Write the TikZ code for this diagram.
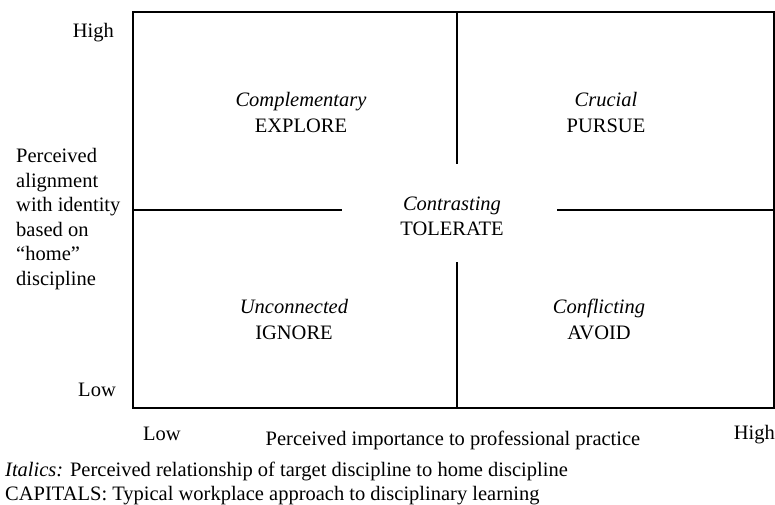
\documentclass[tikz,border=0pt]{standalone}
\usepackage{fontspec}
\setmainfont{Liberation Serif}
\begin{document}
\begin{tikzpicture}[x=1pt,y=-1pt,
  txt/.style={inner sep=0pt,font=\fontsize{20.5}{24.6}\selectfont},
  rule/.style={line width=2.6pt,line cap=butt},
  frame/.style={line width=2.6pt,line join=miter}]
\useasboundingbox (0,0) rectangle (775,504);
% corners of the grid and the gaps in its middle lines
\coordinate (tl) at (133,12);
\coordinate (br) at (774,408);
\coordinate (vtop) at (457,12);
\coordinate (vtopend) at (457,164);
\coordinate (vbotstart) at (457,262);
\coordinate (vbot) at (457,408);
\coordinate (hleft) at (133,210);
\coordinate (hleftend) at (342,210);
\coordinate (hrightstart) at (557,210);
\coordinate (hright) at (774,210);
\draw[frame] (tl) rectangle (br);
\draw[rule] (vtop) -- (vtopend);
\draw[rule] (vbotstart) -- (vbot);
\draw[rule] (hleft) -- (hleftend);
\draw[rule] (hrightstart) -- (hright);
% vertical axis
\node[txt,anchor=base east] (yhigh) at (114,37) {High};
\node[txt,anchor=base east] (ylow) at (116,396) {Low};
\node[txt,anchor=north west,align=left] (ytitle) at (16,148)
  {Perceived\\alignment\\with identity\\based on\\``home''\\discipline};
% horizontal axis
\node[txt,anchor=base west] (xlow) at (143,440) {Low};
\node[txt,anchor=base] (xtitle) at (453,445) {Perceived importance to professional practice};
\node[txt,anchor=base east] (xhigh) at (775,439) {High};
% quadrant labels
\node[txt,anchor=base] (q1a) at (301,106) {\itshape Complementary};
\node[txt,anchor=base] (q1b) at (301,132) {EXPLORE};
\node[txt,anchor=base] (q2a) at (606,106) {\itshape Crucial};
\node[txt,anchor=base] (q2b) at (606,132) {PURSUE};
\node[txt,anchor=base] (q0a) at (452,210) {\itshape Contrasting};
\node[txt,anchor=base] (q0b) at (452,235) {TOLERATE};
\node[txt,anchor=base] (q3a) at (294,313) {\itshape Unconnected};
\node[txt,anchor=base] (q3b) at (294,339) {IGNORE};
\node[txt,anchor=base] (q4a) at (599,313) {\itshape Conflicting};
\node[txt,anchor=base] (q4b) at (599,339) {AVOID};
% legend
\node[txt,anchor=base west] (leg1) at (5,476) {\textit{Italics:} Perceived relationship of target discipline to home discipline};
\node[txt,anchor=base west] (leg2) at (5,500) {CAPITALS: Typical workplace approach to disciplinary learning};
\end{tikzpicture}
\end{document}
